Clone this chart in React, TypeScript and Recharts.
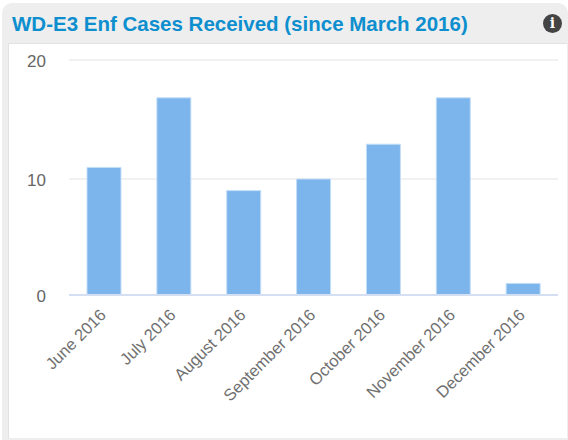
import { Bar, BarChart, CartesianGrid, XAxis, YAxis } from "recharts";

const months = ["June 2016", "July 2016", "August 2016", "September 2016", "October 2016", "November 2016", "December 2016"];
const cases = [11, 17, 9, 10, 13, 17, 1];
// top tick sits a little above 20 in the picture, the bars follow the 0-10 spacing
const yMax = 20.26;
const yTicks = [0, 10, yMax];

const data = months.map((month, i) => ({ month, cases: cases[i] }));

const font = "'Liberation Sans', Arial, sans-serif";

const MonthTick = ({ x, y, payload }: any) => (
  <text transform={`translate(${x + 3},${y + 13}) rotate(-45)`} textAnchor="end" fill="#707070" fontSize={16.5} fontFamily={font}>{payload.value}</text>
);

export default function App() {
  return (
    <div style={{ position: "absolute", left: 0, top: 0, width: 568, height: 440, overflow: "hidden", background: "#fff", fontFamily: font }}>
      <div style={{ position: "absolute", left: 2, top: 3, width: 566, height: 437, background: "#eee", borderRadius: "10px 10px 0 0" }} />
      <div style={{ position: "absolute", left: 8, top: 43, width: 558, height: 394, background: "#fff", borderTop: "1px solid #e2e2e2", borderLeft: "1px solid #e2e2e2" }} />
      <div style={{ position: "absolute", left: 12, top: 12, fontSize: 20.5, lineHeight: "24px", fontWeight: 700, color: "#0d8fcf", whiteSpace: "nowrap" }}>WD-E3 Enf Cases Received (since March 2016)</div>
      <div style={{ position: "absolute", left: 543, top: 14, width: 19, height: 19, borderRadius: "50%", background: "#444", color: "#fff", fontSize: 14, lineHeight: "19px", fontWeight: 700, textAlign: "center", fontFamily: "'DejaVu Serif', serif" }}>i</div>
      <div style={{ position: "absolute", left: 0, top: 0 }}>
        <BarChart width={568} height={440} data={data} margin={{ top: 60, right: 10, bottom: 0, left: 0 }} barSize={34}>
          <CartesianGrid horizontal vertical={false} stroke="#ececec" strokeWidth={1.5} />
          <XAxis dataKey="month" interval={0} height={145} tick={<MonthTick />} tickLine={false} axisLine={{ stroke: "#d5dff2", strokeWidth: 2 }} />
          <YAxis width={69} domain={[0, yMax]} ticks={yTicks} tickFormatter={(v: number) => String(Math.round(v))} tickSize={0} tickMargin={23} axisLine={false} tick={{ fill: "#666", fontSize: 17, fontFamily: font, dy: 0.5 }} />
          <Bar dataKey="cases" fill="#7cb5ec" stroke="#c4def7" strokeWidth={1} isAnimationActive={false} />
        </BarChart>
      </div>
    </div>
  );
}
